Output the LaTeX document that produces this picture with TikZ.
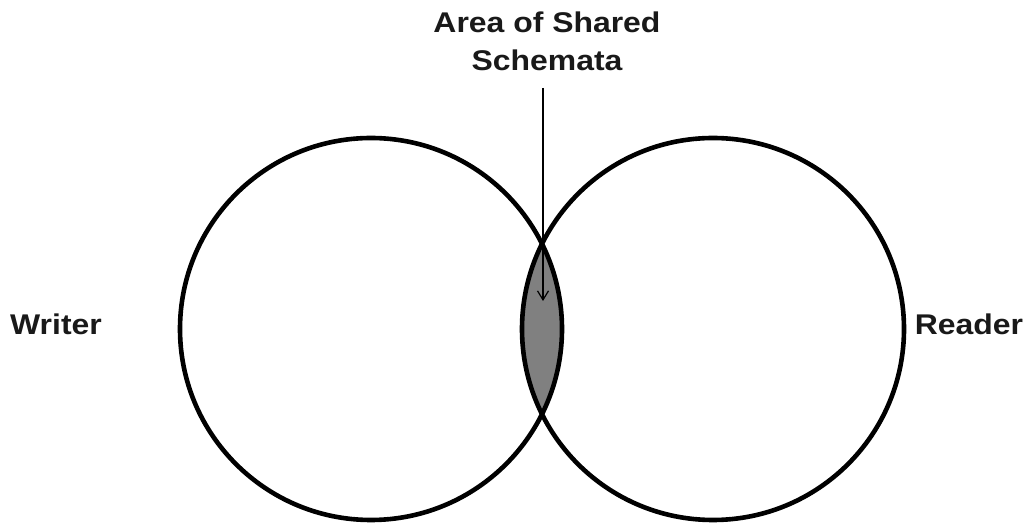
\documentclass[tikz,border=0pt]{standalone}
\usepackage{fontspec}
\setmainfont{Liberation Sans}[FakeStretch=1.12]
\usetikzlibrary{arrows.meta}
\begin{document}
\begin{tikzpicture}[x=1pt,y=-1pt,
  ring/.style={draw=black,line width=4.6pt,circle,minimum size=382pt,inner sep=0pt},
  lbl/.style={font=\fontsize{28.5}{38}\selectfont\bfseries,text=black!90,inner sep=0pt},
  pointer/.style={draw=black,line width=1.2pt,-{Straight Barb[length=9pt,width=11pt]}}]
\useasboundingbox (0,0) rectangle (1029,526);
\coordinate (cw) at (371,329);
\coordinate (cr) at (713,329);
\begin{scope}
  \clip (cw) circle[radius=191pt];
  \fill[gray] (cr) circle[radius=191pt];
\end{scope}
\node[ring] (writercircle) at (cw) {};
\node[ring] (readercircle) at (cr) {};
\node[lbl,anchor=base] (writer) at (56,335) {Writer};
\node[lbl,anchor=base] (reader) at (969,335) {Reader};
\node[lbl,align=center,anchor=north] (area) at (547,12) {Area of Shared\\Schemata};
\coordinate (ptrstart) at (543,88);
\coordinate (ptrtip) at (543,301);
\draw[pointer] (ptrstart) -- (ptrtip);
\end{tikzpicture}
\end{document}
